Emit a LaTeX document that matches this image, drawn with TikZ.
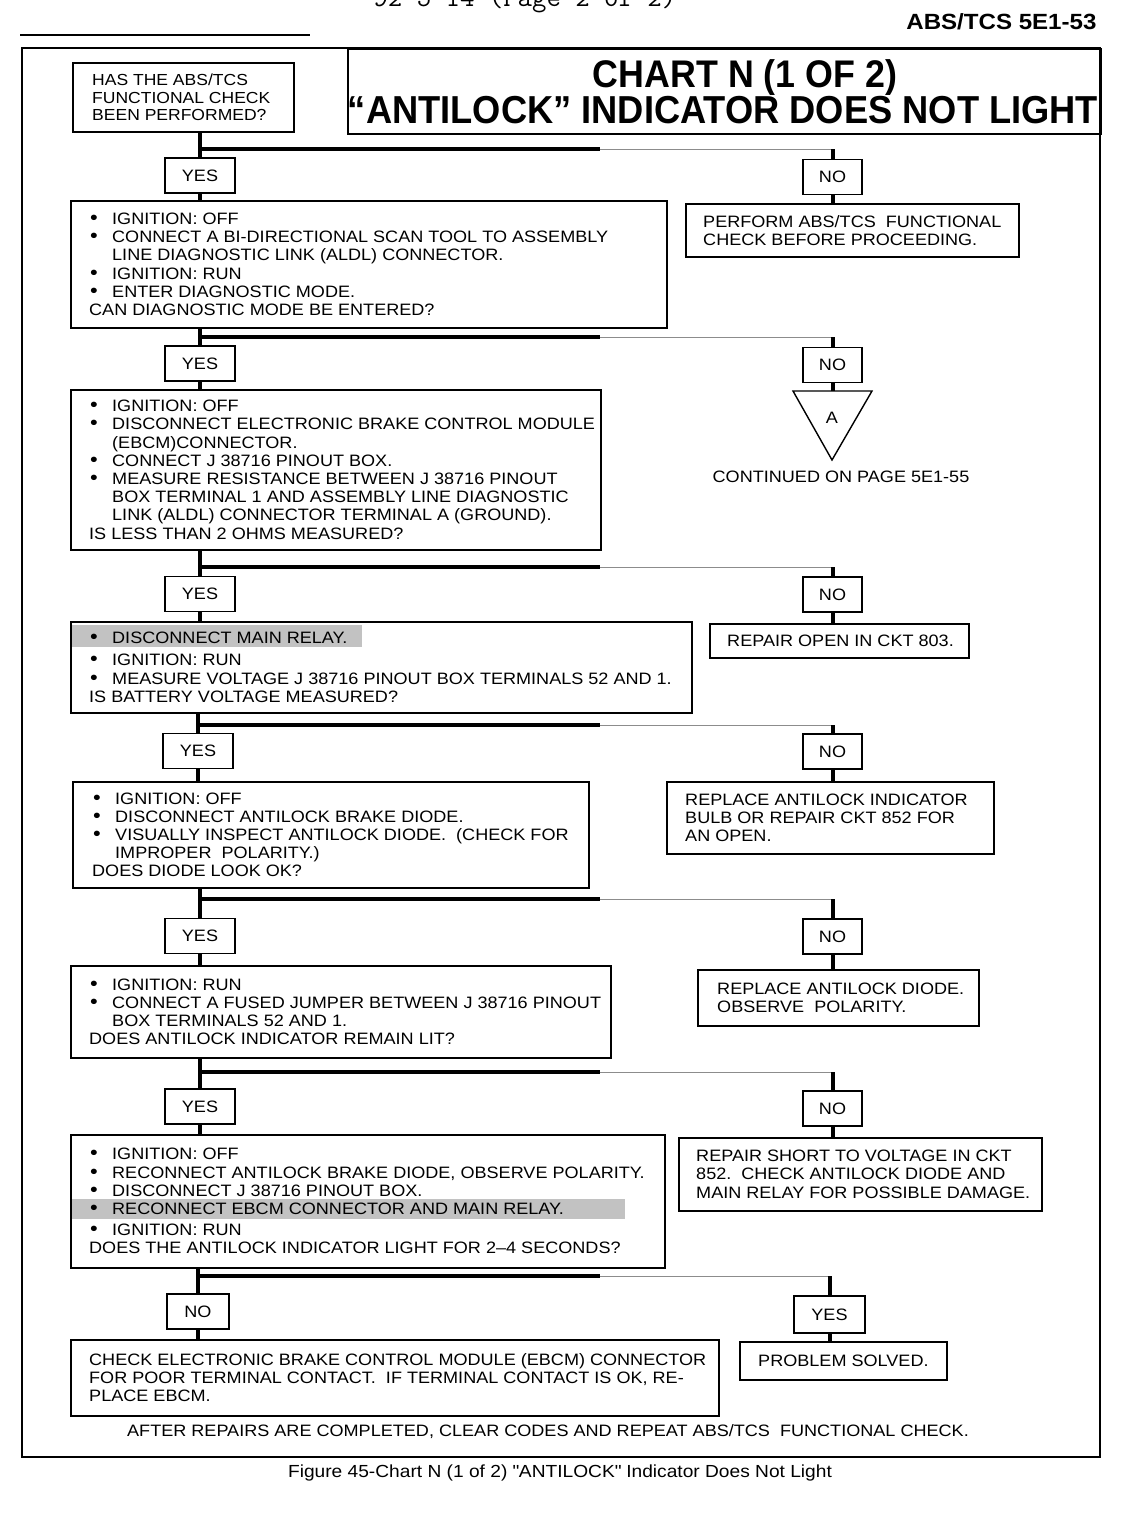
\documentclass[tikz,border=0pt]{standalone}
\usepackage{fontspec}
\setmainfont{Liberation Sans}[FakeStretch=1.095]
\newfontfamily\titlefont{Liberation Sans}[FakeStretch=0.93]
\newcommand{\bl}{\makebox[23pt][l]{\hspace{1pt}{\fontsize{20}{18}\selectfont\textbullet}}}
\newcommand{\ind}{\hspace*{23pt}}
\begin{document}
\begin{tikzpicture}[x=1pt,y=-1pt,
  every node/.style={font=\fontsize{16.5}{18.2}\selectfont},
  qbox/.style={draw, line width=1.6, anchor=north west, inner sep=0},
  ansbox/.style={draw, line width=1.6, minimum height=35, inner sep=0, minimum width=#1},
  ansbox/.default=70,
  txt/.style={anchor=west, align=left, inner sep=0},
  trunk/.style={line width=4},
  thinbar/.style={line width=1, black!45},
  shade/.style={fill=black!24, draw=none}]
\useasboundingbox (0,0) rectangle (1120,1520);

% page header
\node[anchor=base west, font=\ttfamily\fontsize{28}{30}\selectfont] (hdr) at (370,7) {92-5-14 (Page 2 of 2)};
\node[anchor=base east, font=\bfseries\fontsize{22}{24}\selectfont] (pageno) at (1100,30) {ABS/TCS 5E1-53};
\draw[line width=2] (20,35) -- (310,35);

% frame and title
\draw[line width=1.8] (22,48) rectangle (1100,1457);
\node[qbox, minimum width=753, minimum height=85] (titlebox) at (347,48) {};
\node[anchor=base, font=\titlefont\bfseries\fontsize{38.5}{40}\selectfont] (title1) at (745,87) {CHART N (1 OF 2)};
\node[anchor=base, font=\titlefont\bfseries\fontsize{39}{40}\selectfont] (title2) at (723,123) {“ANTILOCK” INDICATOR DOES NOT LIGHT};

% shaded bands
\fill[shade] (70,625) rectangle (362,647);
\fill[shade] (70,1199) rectangle (625,1219);

% question boxes
\node[qbox, minimum width=221, minimum height=69] (q1) at (72,62) {};
\node[txt, font=\fontsize{16}{17.5}\selectfont] (q1t) at ([xshift=20]q1.west) {HAS THE ABS/TCS\\FUNCTIONAL CHECK\\BEEN PERFORMED?};

\node[qbox, minimum width=596, minimum height=127] (q2) at (70,200) {};
\node[txt] (q2t) at ([xshift=19]q2.west) {\bl IGNITION: OFF\\
\bl CONNECT A BI-DIRECTIONAL SCAN TOOL TO ASSEMBLY\\
\ind LINE DIAGNOSTIC LINK (ALDL) CONNECTOR.\\
\bl IGNITION: RUN\\
\bl ENTER DIAGNOSTIC MODE.\\
CAN DIAGNOSTIC MODE BE ENTERED?};

\node[qbox, minimum width=530, minimum height=160] (q3) at (70,389) {};
\node[txt] (q3t) at ([xshift=19]q3.west) {\bl IGNITION: OFF\\
\bl DISCONNECT ELECTRONIC BRAKE CONTROL MODULE\\
\ind (EBCM)CONNECTOR.\\
\bl CONNECT J 38716 PINOUT BOX.\\
\bl MEASURE RESISTANCE BETWEEN J 38716 PINOUT\\
\ind BOX TERMINAL 1 AND ASSEMBLY LINE DIAGNOSTIC\\
\ind LINK (ALDL) CONNECTOR TERMINAL A (GROUND).\\
IS LESS THAN 2 OHMS MEASURED?};

\node[qbox, minimum width=621, minimum height=91] (q4) at (70,621) {};
\node[txt] (q4t) at ([xshift=19]q4.west) {\bl DISCONNECT MAIN RELAY.\\[4pt]
\bl IGNITION: RUN\\
\bl MEASURE VOLTAGE J 38716 PINOUT BOX TERMINALS 52 AND 1.\\
IS BATTERY VOLTAGE MEASURED?};

\node[qbox, minimum width=516, minimum height=106] (q5) at (72,781) {};
\node[txt] (q5t) at ([xshift=20]q5.west) {\bl IGNITION: OFF\\
\bl DISCONNECT ANTILOCK BRAKE DIODE.\\
\bl VISUALLY INSPECT ANTILOCK DIODE.\ \ (CHECK FOR\\
\ind IMPROPER\ \ POLARITY.)\\
DOES DIODE LOOK OK?};

\node[qbox, minimum width=540, minimum height=92] (q6) at (70,965) {};
\node[txt] (q6t) at ([xshift=19]q6.west) {\bl IGNITION: RUN\\
\bl CONNECT A FUSED JUMPER BETWEEN J 38716 PINOUT\\
\ind BOX TERMINALS 52 AND 1.\\
DOES ANTILOCK INDICATOR REMAIN LIT?};

\node[qbox, minimum width=594, minimum height=133] (q7) at (70,1134) {};
\node[txt] (q7t) at ([xshift=19]q7.west) {\bl IGNITION: OFF\\
\bl RECONNECT ANTILOCK BRAKE DIODE, OBSERVE POLARITY.\\
\bl DISCONNECT J 38716 PINOUT BOX.\\
\bl RECONNECT EBCM CONNECTOR AND MAIN RELAY.\\[3pt]
\bl IGNITION: RUN\\
DOES THE ANTILOCK INDICATOR LIGHT FOR 2–4 SECONDS?};

\node[qbox, minimum width=648, minimum height=76] (q8) at (70,1339) {};
\node[txt] (q8t) at ([xshift=19]q8.west) {CHECK ELECTRONIC BRAKE CONTROL MODULE (EBCM) CONNECTOR\\
FOR POOR TERMINAL CONTACT.\ \ IF TERMINAL CONTACT IS OK, RE-\\
PLACE EBCM.};

% result boxes
\node[qbox, minimum width=333, minimum height=53] (r1) at (685,203) {};
\node[txt] (r1t) at ([xshift=18]r1.west) {PERFORM ABS/TCS\ \ FUNCTIONAL\\CHECK BEFORE PROCEEDING.};

\node[qbox, minimum width=259, minimum height=34] (r3) at (709,623) {};
\node[txt] (r3t) at ([xshift=18]r3.west) {REPAIR OPEN IN CKT 803.};

\node[qbox, minimum width=327, minimum height=72] (r4) at (666,781) {};
\node[txt] (r4t) at ([xshift=19]r4.west) {REPLACE ANTILOCK INDICATOR\\BULB OR REPAIR CKT 852 FOR\\AN OPEN.};

\node[qbox, minimum width=281, minimum height=56] (r5) at (697,969) {};
\node[txt] (r5t) at ([xshift=20]r5.west) {REPLACE ANTILOCK DIODE.\\OBSERVE\ \ POLARITY.};

\node[qbox, minimum width=363, minimum height=73] (r6) at (678,1137) {};
\node[txt] (r6t) at ([xshift=18]r6.west) {REPAIR SHORT TO VOLTAGE IN CKT\\852.\ \ CHECK ANTILOCK DIODE AND\\MAIN RELAY FOR POSSIBLE DAMAGE.};

\node[qbox, minimum width=207, minimum height=38] (r7) at (739,1341) {};
\node[txt] (r7t) at ([xshift=19]r7.west) {PROBLEM SOLVED.};

% off-page connector
\coordinate (triL) at (793,391);
\coordinate (triR) at (872,391);
\coordinate (triB) at (832,460);
\draw[line width=1.4] (triL) -- (triR) -- (triB) -- cycle;
\node (triA) at (832,418) {A};
\node (cont) at (841,477) {CONTINUED ON PAGE 5E1-55};

% yes / no boxes
\node[ansbox] (y1) at (200,175.5) {YES};
\node[ansbox=59] (n1) at (832.5,177) {NO};
\node[ansbox] (y2) at (200,363.5) {YES};
\node[ansbox=59] (n2) at (832.5,365) {NO};
\node[ansbox] (y3) at (200,594) {YES};
\node[ansbox=59] (n3) at (832.5,594.5) {NO};
\node[ansbox] (y4) at (198,751) {YES};
\node[ansbox=59] (n4) at (832.5,751.5) {NO};
\node[ansbox] (y5) at (200,936) {YES};
\node[ansbox=59] (n5) at (832.5,936.5) {NO};
\node[ansbox] (y6) at (200,1106.5) {YES};
\node[ansbox=59] (n6) at (832.5,1108.5) {NO};
\node[ansbox=62] (y7) at (198,1311.5) {NO};
\node[ansbox=71, minimum height=37] (n7) at (829.5,1314.5) {YES};

% bar coordinates
\coordinate (m1) at (600,149);
\coordinate (m2) at (600,337);
\coordinate (m3) at (600,567);
\coordinate (m4) at (600,725);
\coordinate (m5) at (600,899);
\coordinate (m6) at (600,1072);
\coordinate (m7) at (600,1276);

% connectors
\foreach \q/\y/\n/\m/\nq in {q1/y1/n1/m1/q2, q2/y2/n2/m2/q3, q3/y3/n3/m3/q4, q4/y4/n4/m4/q5, q5/y5/n5/m5/q6, q6/y6/n6/m6/q7, q7/y7/n7/m7/q8}{
  \draw[trunk] (\q.south -| \y) -- (\y.north);
  \draw[trunk] (\y |- \m) -- (\m);
  \draw[thinbar] (\m) -- (\n |- \m);
  \draw[trunk] (\n |- \m) -- (\n.north);
  \draw[trunk] (\y.south) -- (\y |- \nq.north);
}
\draw[trunk] (n1.south) -- (n1 |- r1.north);
\draw[trunk] (n2.south) -- (n2 |- triL);
\draw[trunk] (n3.south) -- (n3 |- r3.north);
\draw[trunk] (n4.south) -- (n4 |- r4.north);
\draw[trunk] (n5.south) -- (n5 |- r5.north);
\draw[trunk] (n6.south) -- (n6 |- r6.north);
\draw[trunk] (n7.south) -- (n7 |- r7.north);

% footer
\node (foot) at (548,1432) {AFTER REPAIRS ARE COMPLETED, CLEAR CODES AND REPEAT ABS/TCS\ \ FUNCTIONAL CHECK.};
\node[font=\fontsize{17.5}{19}\selectfont] (caption) at (560,1473) {Figure 45-Chart N (1 of 2) \textquotedbl ANTILOCK\textquotedbl\ Indicator Does Not Light};
\end{tikzpicture}
\end{document}
